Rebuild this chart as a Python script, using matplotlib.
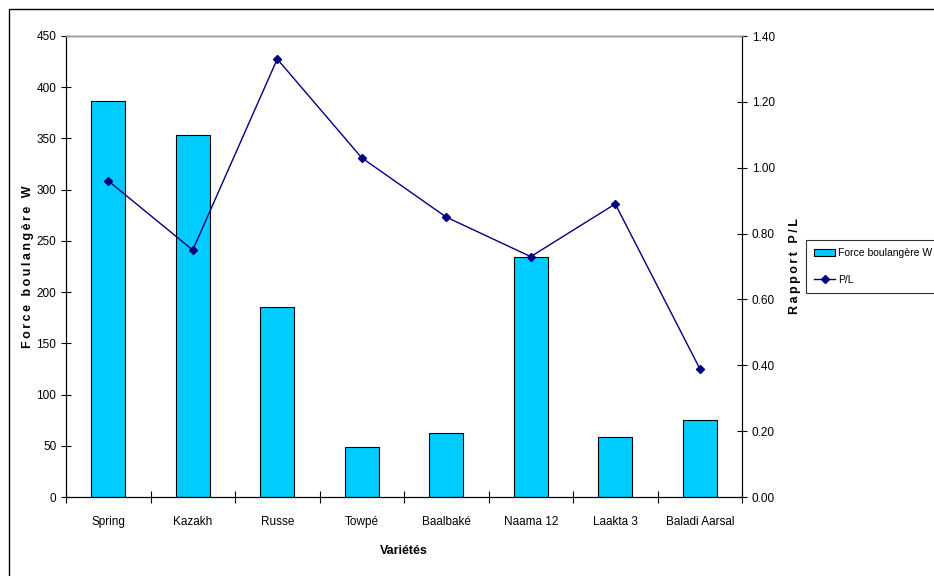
import numpy as np
import matplotlib.pyplot as plt
from matplotlib.patches import Rectangle

plt.rcParams['font.family'] = ['Liberation Sans', 'DejaVu Sans']

varietes = ["Spring", "Kazakh", "Russe", "Towpé", "Baalbaké", "Naama 12", "Laakta 3", "Baladi Aarsal"]
force_w = [387, 353, 185, 49, 62, 234, 59, 75]
rapport_pl = [0.96, 0.75, 1.33, 1.03, 0.85, 0.73, 0.89, 0.39]


def spaced(text):
    # letter-spaced axis titles
    return "\u2009".join(text)


fig = plt.figure(figsize=(9.34, 5.76), dpi=100)
ax = fig.add_axes([66 / 934, 79 / 576, 676 / 934, 461 / 576])
ax2 = ax.twinx()

x = np.arange(len(varietes))
bars = ax.bar(x, force_w, width=0.4, color="#00CCFF", edgecolor="black", linewidth=0.8,
              label="Force boulangère W", zorder=2)
line, = ax2.plot(x, rapport_pl, color="#000080", linewidth=1, marker="D", markersize=4,
                 label="P/L", zorder=3)

ax.set_xlim(-0.5, len(varietes) - 0.5)
ax.set_ylim(0, 450)
ax.set_yticks(np.arange(0, 451, 50))
ax2.set_ylim(0, 1.4)
ax2.set_yticks(np.arange(0, 1.41, 0.2))
ax2.set_yticklabels([f"{v:.2f}" for v in np.arange(0, 1.41, 0.2)])

ax.set_xticks(x)
ax.set_xticklabels(varietes)
ax.set_xticks(np.arange(-0.5, len(varietes), 1), minor=True)
ax.tick_params(axis="x", which="major", length=0, pad=14, labelsize=8.5)
ax.tick_params(axis="x", which="minor", direction="inout", length=8, width=0.8)
ax.tick_params(axis="y", direction="inout", length=7, width=0.8, labelsize=8.5)
ax2.tick_params(axis="y", direction="inout", length=7, width=0.8, labelsize=8.5)

for a in (ax, ax2):
    a.spines["top"].set_color("#999999")
    a.spines["top"].set_linewidth(1)
    a.spines["left"].set_linewidth(0.8)
    a.spines["right"].set_linewidth(0.8)
    a.spines["bottom"].set_linewidth(0.8)

ax.set_xlabel("Variétés", fontsize=9, fontweight="bold", labelpad=12)
ax.set_ylabel(spaced("Force boulangère W"), fontsize=9, fontweight="bold", labelpad=2)
ax2.set_ylabel(spaced("Rapport P/L"), fontsize=9, fontweight="bold", labelpad=10)

# outer chart frame
fig.patches.append(Rectangle((9 / 934, -0.1), 1.1, 1 - 9 / 576 + 0.1,
                             transform=fig.transFigure, fill=False,
                             edgecolor="black", linewidth=1))

leg = fig.legend([bars, line], ["Force boulangère W", "P/L"],
                 loc="upper left", bbox_to_anchor=(806 / 934, 1 - 240 / 576),
                 fontsize=7.5, frameon=True, fancybox=False, borderpad=0.8,
                 handlelength=2.0, handletextpad=0.3, labelspacing=1.6,
                 borderaxespad=0)
leg.get_frame().set_edgecolor("black")
leg.get_frame().set_linewidth(0.8)

fig.savefig("out.png", dpi=100)
